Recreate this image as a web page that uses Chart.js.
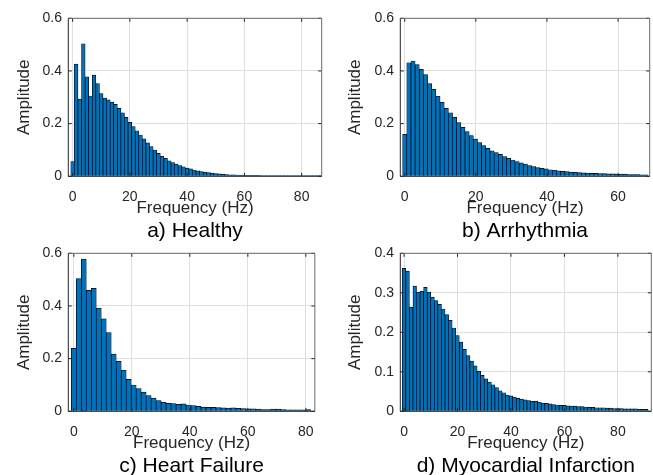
<!DOCTYPE html>
<html>
<head>
<meta charset="utf-8">
<script src="https://cdn.jsdelivr.net/npm/chart.js@4/dist/chart.umd.min.js"></script>
<style>
  html, body { margin: 0; padding: 0; background: #fff; overflow: hidden; width: 653px; height: 475px; }
  canvas { position: absolute; }
</style>
</head>
<body>
<canvas id="ca"></canvas>
<canvas id="cb"></canvas>
<canvas id="cc"></canvas>
<canvas id="cd"></canvas>
<script>
// ---------- data ----------
const titles = ['a) Healthy', 'b) Arrhythmia', 'c) Heart Failure', 'd) Myocardial Infarction'];
const xLabel = 'Frequency (Hz)';
const yLabel = 'Amplitude';

// frequency resolution (Hz per bin) of each spectrum
const binHealthy = 1.25;
const binArrhythmia = 1.17;
const binHeartFailure = 1.72;
const binMI = 1.333;

const ampHealthy = [0.056,0.426,0.293,0.503,0.378,0.305,0.384,0.352,0.314,0.297,
  0.290,0.282,0.273,0.258,0.241,0.224,0.205,0.189,0.173,0.157,
  0.142,0.127,0.113,0.100,0.087,0.077,0.068,0.059,0.052,0.046,
  0.041,0.036,0.031,0.028,0.024,0.021,0.018,0.016,0.014,0.012,
  0.010,0.009,0.008,0.007,0.006,0.006,0.005,0.005,0.004,0.004,
  0.004,0.004,0.004,0.003,0.003,0.003,0.003,0.003,0.003,0.003,
  0.003,0.003,0.003,0.003,0.003,0.003,0.003,0.003,0.003,0.003];

const ampArrhythmia = [0.159,0.431,0.438,0.424,0.406,0.386,0.352,0.330,0.304,0.281,
  0.258,0.241,0.224,0.204,0.186,0.170,0.155,0.141,0.128,0.117,
  0.106,0.097,0.090,0.083,0.075,0.068,0.062,0.056,0.051,0.046,
  0.041,0.037,0.033,0.030,0.028,0.025,0.023,0.021,0.019,0.018,
  0.016,0.015,0.014,0.013,0.012,0.011,0.011,0.010,0.010,0.009,
  0.009,0.008,0.008,0.008,0.007,0.007,0.007,0.006,0.006];

const ampHeartFailure = [0.239,0.504,0.578,0.459,0.467,0.392,0.351,0.299,0.217,0.190,
  0.156,0.121,0.100,0.086,0.073,0.060,0.050,0.041,0.034,0.030,
  0.029,0.026,0.028,0.024,0.022,0.019,0.016,0.015,0.015,0.014,
  0.013,0.012,0.013,0.011,0.010,0.009,0.009,0.008,0.007,0.007,
  0.008,0.008,0.007,0.006,0.006,0.006,0.006,0.007];

const ampMI = [0.362,0.355,0.264,0.317,0.302,0.304,0.314,0.302,0.289,0.280,
  0.271,0.259,0.245,0.230,0.211,0.192,0.175,0.157,0.141,0.127,
  0.115,0.102,0.091,0.082,0.074,0.067,0.060,0.052,0.047,0.041,
  0.039,0.036,0.033,0.031,0.029,0.027,0.025,0.026,0.023,0.021,
  0.020,0.019,0.017,0.016,0.015,0.015,0.014,0.013,0.013,0.012,
  0.012,0.011,0.010,0.010,0.009,0.009,0.009,0.008,0.008,0.007,
  0.007,0.007,0.006,0.006,0.006,0.006,0.005,0.005,0.005];

const xTicksA = [0, 20, 40, 60, 80];
const xTicksB = [0, 20, 40, 60];
const xTicksC = [0, 20, 40, 60, 80];
const xTicksD = [0, 20, 40, 60, 80];
const yTicks6 = [0, 0.2, 0.4, 0.6];
const yTicks4 = [0, 0.1, 0.2, 0.3, 0.4];

// ---------- styling / layout ----------
const FONT = "'Liberation Sans', Arial, Helvetica, sans-serif";
const TXT = '#262626';
const GRID = '#dfdfdf';
const BAR = '#0072BD';

const boxPlugin = {
  id: 'box',
  afterDatasetsDraw(chart) {
    const {ctx, chartArea: a, scales} = chart;
    const x = scales.x, y = scales.y;
    ctx.save();
    ctx.lineWidth = 1;
    // inward tick marks
    ctx.strokeStyle = TXT;
    const tl = 3.5;
    ctx.beginPath();
    x.ticks.forEach(t => {
      const px = x.getPixelForValue(t.value);
      ctx.moveTo(px, a.bottom); ctx.lineTo(px, a.bottom - tl);
      ctx.moveTo(px, a.top); ctx.lineTo(px, a.top + tl);
    });
    y.ticks.forEach(t => {
      const py = y.getPixelForValue(t.value);
      ctx.moveTo(a.left, py); ctx.lineTo(a.left + tl, py);
      ctx.moveTo(a.right, py); ctx.lineTo(a.right - tl, py);
    });
    ctx.stroke();
    // top & right frame
    ctx.strokeStyle = '#6a6a6a';
    ctx.beginPath();
    ctx.moveTo(a.left, a.top); ctx.lineTo(a.right, a.top); ctx.lineTo(a.right, a.bottom);
    ctx.stroke();
    // left & bottom frame
    ctx.strokeStyle = TXT;
    ctx.beginPath();
    ctx.moveTo(a.left, a.top); ctx.lineTo(a.left, a.bottom); ctx.lineTo(a.right, a.bottom);
    ctx.stroke();
    ctx.restore();
  }
};

function makePanel(id, p) {
  const cv = document.getElementById(id);
  cv.width = p.w; cv.height = p.h;
  cv.style.left = p.left + 'px'; cv.style.top = p.top + 'px';
  cv.style.width = p.w + 'px'; cv.style.height = p.h + 'px';
  const data = p.amp.map((v, i) => ({x: i * p.bin, y: v}));
  return new Chart(cv, {
    type: 'bar',
    data: { datasets: [{
      data,
      backgroundColor: BAR,
      borderColor: '#000',
      borderWidth: 0.7,
      barPercentage: 1,
      categoryPercentage: 1
    }]},
    options: {
      responsive: false,
      animation: false,
      events: [],
      layout: { padding: { left: 0, right: p.padRight, top: 18.3, bottom: 1.4 } },
      plugins: {
        legend: { display: false },
        tooltip: { enabled: false },
        title: {
          display: true, position: 'bottom', fullSize: false,
          text: p.title, color: '#000', padding: 0,
          font: { family: FONT, size: 21, weight: 'normal', lineHeight: 1.2 }
        }
      },
      scales: {
        x: {
          type: 'linear', min: p.xmin, max: p.xmax, offset: false,
          afterFit: s => { s.height = 42.1; },
          afterBuildTicks: s => { s.ticks = p.xTicks.map(v => ({value: v})); },
          grid: { color: GRID, drawTicks: false, offset: false },
          border: { display: false },
          ticks: { color: TXT, padding: 12.2, maxRotation: 0, autoSkip: false,
                   font: { family: FONT, size: 14 }, callback: v => String(v) },
          title: { display: true, text: xLabel, color: TXT, padding: { top: 0, bottom: 0 },
                   font: { family: FONT, size: 17, lineHeight: 1.2 } }
        },
        y: {
          type: 'linear', min: 0, max: p.ymax,
          afterFit: s => { s.width = p.yw; },
          afterBuildTicks: s => { s.ticks = p.yTicks.map(v => ({value: v})); },
          grid: { color: GRID, drawTicks: false },
          border: { display: false },
          ticks: { color: TXT, padding: 6.3, autoSkip: false,
                   font: { family: FONT, size: 14 }, callback: v => String(v) },
          title: { display: true, text: yLabel, color: TXT, padding: { top: p.ytPad, bottom: 0 },
                   font: { family: FONT, size: 17, lineHeight: 1.2 } }
        }
      }
    },
    plugins: [boxPlugin]
  });
}

makePanel('ca', { left: 0, top: 0, w: 326, h: 245, yw: 68.3, padRight: 4.3, ytPad: 14.3,
  amp: ampHealthy, bin: binHealthy, xmin: -1.5, xmax: 87, ymax: 0.6,
  xTicks: xTicksA, yTicks: yTicks6, title: titles[0] });
makePanel('cb', { left: 326, top: 0, w: 327, h: 245, yw: 74.3, padRight: 3.3, ytPad: 19.5,
  amp: ampArrhythmia, bin: binArrhythmia, xmin: -1.24, xmax: 68.9, ymax: 0.6,
  xTicks: xTicksB, yTicks: yTicks6, title: titles[1] });
makePanel('cc', { left: 0, top: 235, w: 326, h: 245, yw: 68.3, padRight: 4.3, ytPad: 14.3,
  amp: ampHeartFailure, bin: binHeartFailure, xmin: -1.9, xmax: 83.1, ymax: 0.6,
  xTicks: xTicksC, yTicks: yTicks6, title: titles[2] });
makePanel('cd', { left: 326, top: 235, w: 327, h: 245, yw: 74.3, padRight: 1.7, ytPad: 19.5,
  amp: ampMI, bin: binMI, xmin: -1.4, xmax: 92.5, ymax: 0.4,
  xTicks: xTicksD, yTicks: yTicks4, title: titles[3] });
</script>
</body>
</html>
